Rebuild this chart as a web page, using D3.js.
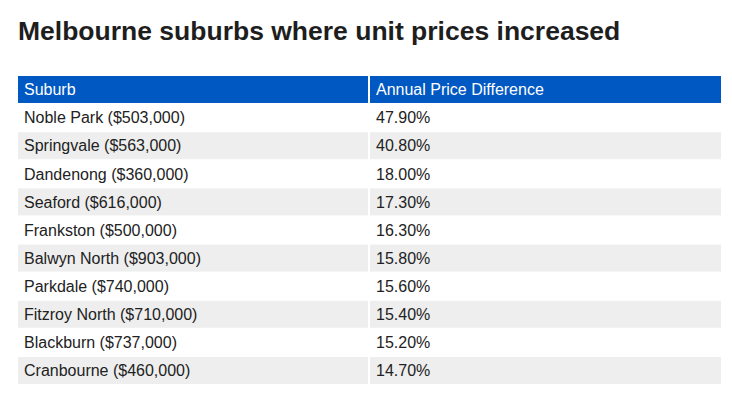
<!DOCTYPE html>
<html><head><meta charset="utf-8">
<script src="https://cdn.jsdelivr.net/npm/d3@7"></script>
<style>body{margin:0;background:#fff;}svg{display:block;}</style>
</head><body>
<script>
const title = "Melbourne suburbs where unit prices increased";
const headers = ["Suburb", "Annual Price Difference"];
const suburbs = ["Noble Park ($503,000)","Springvale ($563,000)","Dandenong ($360,000)","Seaford ($616,000)","Frankston ($500,000)","Balwyn North ($903,000)","Parkdale ($740,000)","Fitzroy North ($710,000)","Blackburn ($737,000)","Cranbourne ($460,000)"];
const priceDiff = ["47.90%","40.80%","18.00%","17.30%","16.30%","15.80%","15.60%","15.40%","15.20%","14.70%"];

const W = 732, H = 405;
const svg = d3.select("body").append("svg").attr("width", W).attr("height", H);
const font = "'Liberation Sans', Arial, sans-serif";

svg.append("text").attr("x", 18).attr("y", 40).text(title)
  .attr("font-family", font).attr("font-weight", "bold").attr("font-size", 26.5).attr("fill", "#1e1e1e");

const x = d3.scaleLinear().domain([0, 2]).range([18, 721]);
const rowsIdx = d3.range(suburbs.length + 1);
const y = d3.scaleBand().domain(rowsIdx).range([76, 384]).paddingInner(0.04);

const data = [headers].concat(suburbs.map((s,i)=>[s, priceDiff[i]]));

const g = svg.append("g");
data.forEach((row, r) => {
  row.forEach((cell, c) => {
    const fill = r === 0 ? "#0058c2" : (r % 2 === 0 ? "#eeeeee" : "#ffffff");
    const x0 = c === 0 ? x(0) : x(1) + 0.5;
    const x1 = c === 0 ? x(1) - 1.5 : x(2);
    g.append("rect").attr("x", x0).attr("y", y(r)).attr("width", x1 - x0).attr("height", y.bandwidth()).attr("fill", fill);
    g.append("text").attr("x", x0 + 6).attr("y", y(r) + y.bandwidth()/2 + 5.8)
      .text(cell).attr("font-family", font).attr("font-size", 16)
      .attr("fill", r === 0 ? "#ffffff" : "#222");
  });
});
</script>
</body></html>
